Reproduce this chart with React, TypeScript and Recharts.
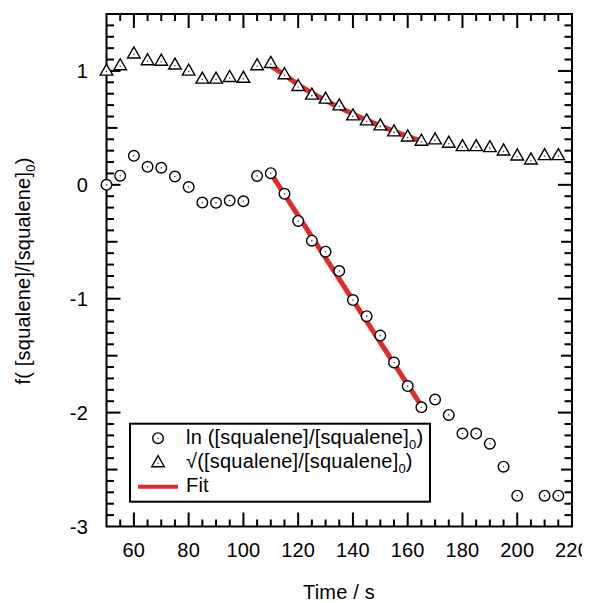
import React from 'react';
import { ComposedChart, Scatter, XAxis, YAxis, ReferenceArea } from 'recharts';

// ---- data ----
const time = [50, 55, 60, 65, 70, 75, 80, 85, 90, 95, 100, 105, 110, 115, 120, 125, 130, 135, 140, 145, 150, 155, 160, 165, 170, 175, 180, 185, 190, 195, 200, 205, 210, 215];
const lnRatio: (number | null)[] = [0.0, 0.08, 0.255, 0.158, 0.15, 0.073, -0.02, -0.156, -0.158, -0.138, -0.144, 0.078, 0.102, -0.079, -0.317, -0.49, -0.587, -0.757, -1.012, -1.153, -1.324, -1.56, -1.767, -1.953, -1.885, -2.02, -2.184, -2.184, -2.273, -2.475, -2.729, null, -2.729, -2.729];
const sqrtRatio = [1.003, 1.05, 1.153, 1.094, 1.09, 1.056, 1.003, 0.933, 0.933, 0.947, 0.94, 1.05, 1.07, 0.971, 0.868, 0.792, 0.757, 0.698, 0.61, 0.566, 0.522, 0.469, 0.425, 0.387, 0.399, 0.37, 0.34, 0.34, 0.331, 0.302, 0.258, 0.223, 0.261, 0.261];

const fitLnTime = [110, 165];
const fitLnValue = [0.1, -1.94];
const fitSqrtTime = [110, 115, 120, 125, 130, 135, 140, 145, 150, 155, 160, 165];
const fitSqrtValue = [1.045, 0.965, 0.88, 0.805, 0.74, 0.68, 0.622, 0.568, 0.518, 0.47, 0.425, 0.384];

const xTickLabels = [60, 80, 100, 120, 140, 160, 180, 200, 220];
const yTickLabels = [-3, -2, -1, 0, 1];
const yMidTicks = [-2.5, -1.5, -0.5, 0.5];
const X_DOMAIN = [50, 220];
const Y_DOMAIN = [-3, 1.5];

const legendLabels = ['ln ([squalene]/[squalene]', '\u221A([squalene]/[squalene]', 'Fit'];
const xTitle = 'Time / s';
const yTitle = 'f( [squalene]/[squalene]';

// ---- styling ----
const FONT = '"Liberation Sans", Arial, Helvetica, sans-serif';
const FS = 20;
const LS = 0.2;
const RED = '#e22a2b';
const W = 582;
const H = 595;
// plot size in px, used only to express tick lengths in axis units
const PXX = 465.5 / (X_DOMAIN[1] - X_DOMAIN[0]);
const PXY = 512.5 / (Y_DOMAIN[1] - Y_DOMAIN[0]);

const lnData = time
  .map((t, i) => ({ t, v: lnRatio[i] }))
  .filter((d) => d.v !== null) as { t: number; v: number }[];
const sqrtData = time.map((t, i) => ({ t, v: sqrtRatio[i] }));
const fitLnData = fitLnTime.map((t, i) => ({ t, v: fitLnValue[i] }));
const fitSqrtData = fitSqrtTime.map((t, i) => ({ t, v: fitSqrtValue[i] }));

// inner tick positions: every 5 s and every 0.1 unit
const xMajorIn = xTickLabels.filter((t) => t < X_DOMAIN[1]);
const xMinor: number[] = [];
for (let v = 55; v < 220; v += 5) if (!xTickLabels.includes(v)) xMinor.push(v);
const yMajorIn = yTickLabels.filter((v) => v > Y_DOMAIN[0]);
const yMinor: number[] = [];
for (let k = -29; k <= 14; k++) if (k % 5 !== 0) yMinor.push(k / 10);

// tick marks anchored at their mid point, just inside the frame
const vTicks = (list: number[], len: number) => [
  ...list.map((t) => ({ t, v: Y_DOMAIN[0] + len / 2 / PXY })),
  ...list.map((t) => ({ t, v: Y_DOMAIN[1] - len / 2 / PXY })),
];
const hTicks = (list: number[], len: number) => [
  ...list.map((v) => ({ t: X_DOMAIN[0] + len / 2 / PXX, v })),
  ...list.map((v) => ({ t: X_DOMAIN[1] - len / 2 / PXX, v })),
];
const V_MAJOR = vTicks(xMajorIn, 14);
const V_MINOR = vTicks(xMinor, 7);
const H_MAJOR = hTicks(yMajorIn, 14);
const H_MID = hTicks(yMidTicks, 11);
const H_MINOR = hTicks(yMinor, 7.5);

function VMajorShape(props: any) {
  return <rect x={props.cx - 1} y={props.cy - 7} width={2} height={14} fill="#000" />;
}
function VMinorShape(props: any) {
  return <rect x={props.cx - 1} y={props.cy - 3.5} width={2} height={7} fill="#000" />;
}
function HMajorShape(props: any) {
  return <rect x={props.cx - 7} y={props.cy - 1} width={14} height={2} fill="#000" />;
}
function HMidShape(props: any) {
  return <rect x={props.cx - 5.5} y={props.cy - 1} width={11} height={2} fill="#000" />;
}
function HMinorShape(props: any) {
  return <rect x={props.cx - 3.75} y={props.cy - 1} width={7.5} height={2} fill="#000" />;
}

function CircleMark(props: any) {
  const { cx, cy } = props;
  return (
    <g>
      <circle cx={cx} cy={cy} r={5.3} fill="#fff" stroke="#000" strokeWidth={1.4} />
      <circle cx={cx} cy={cy} r={0.8} fill="#444" />
    </g>
  );
}

function TriMark(props: any) {
  const { cx, cy } = props;
  const pts = `${cx},${cy - 6.5} ${cx + 6.3},${cy + 4.5} ${cx - 6.3},${cy + 4.5}`;
  return (
    <g>
      <polygon points={pts} fill="#fff" stroke="#000" strokeWidth={1.4} />
      <circle cx={cx} cy={cy + 1} r={0.8} fill="#444" />
    </g>
  );
}

const NoMark = () => <g />;

function Overlay() {
  return (
    <svg width={W} height={H} style={{ position: 'absolute', left: 0, top: 0, pointerEvents: 'none' }}>
      <text x={331} y={591} textAnchor="middle" fontSize={FS} fontFamily={FONT} letterSpacing={LS} fill="#000">
        {xTitle}
      </text>
      <text
        x={21.5}
        y={263}
        textAnchor="middle"
        fontSize={FS}
        fontFamily={FONT}
        letterSpacing={LS}
        fill="#000"
        transform="rotate(-90 21.5 263)"
      >
        {yTitle}
        <tspan dy={5} fontSize={13}>0</tspan>
        <tspan dy={-5}>)</tspan>
      </text>
      <g transform="translate(121 414.7)">
        <rect x={1} y={1} width={300} height={78} fill="#fff" stroke="#000" strokeWidth={2} />
        <CircleMark cx={29} cy={15.5} />
        <TriMark cx={29} cy={39.5} />
        <line x1={9} x2={49} y1={64} y2={64} stroke={RED} strokeWidth={4} />
        <text x={57} y={21} fontSize={FS} fontFamily={FONT} letterSpacing={LS} fill="#000">
          {legendLabels[0]}
          <tspan dy={5} fontSize={13}>0</tspan>
          <tspan dy={-5}>)</tspan>
        </text>
        <text x={57} y={45} fontSize={FS} fontFamily={FONT} letterSpacing={LS} fill="#000">
          {legendLabels[1]}
          <tspan dy={5} fontSize={13}>0</tspan>
          <tspan dy={-5}>)</tspan>
        </text>
        <text x={57} y={69.4} fontSize={FS} fontFamily={FONT} letterSpacing={LS} fill="#000">
          {legendLabels[2]}
        </text>
      </g>
    </svg>
  );
}

const tickFont = { fontSize: FS, fontFamily: FONT, fill: '#000', letterSpacing: LS };

export default function App() {
  return (
    <div style={{ position: 'relative', width: W, height: H, background: '#fff' }}>
      <ComposedChart width={W} height={H} margin={{ top: 6, right: 18, bottom: 0, left: 0 }}>
        <XAxis
          xAxisId={0}
          type="number"
          dataKey="t"
          domain={X_DOMAIN}
          ticks={xTickLabels}
          interval={0}
          tickSize={0}
          tickMargin={16}
          tickLine={false}
          axisLine={false}
          tick={tickFont}
          height={76.5}
        />
        <YAxis
          yAxisId={0}
          type="number"
          dataKey="v"
          domain={Y_DOMAIN}
          ticks={yTickLabels}
          interval={0}
          tickSize={0}
          tickMargin={18.5}
          tickLine={false}
          axisLine={false}
          tick={tickFont}
          width={98.5}
        />
        <ReferenceArea
          x1={X_DOMAIN[0]}
          x2={X_DOMAIN[1]}
          y1={Y_DOMAIN[0]}
          y2={Y_DOMAIN[1]}
          fill="none"
          fillOpacity={0}
          stroke="#000"
          strokeWidth={2}
          strokeOpacity={1}
        />
        <Scatter data={V_MAJOR} shape={<VMajorShape />} isAnimationActive={false} />
        <Scatter data={V_MINOR} shape={<VMinorShape />} isAnimationActive={false} />
        <Scatter data={H_MAJOR} shape={<HMajorShape />} isAnimationActive={false} />
        <Scatter data={H_MID} shape={<HMidShape />} isAnimationActive={false} />
        <Scatter data={H_MINOR} shape={<HMinorShape />} isAnimationActive={false} />
        <Scatter data={fitLnData} shape={<NoMark />} line={{ stroke: RED, strokeWidth: 5 }} isAnimationActive={false} />
        <Scatter data={fitSqrtData} shape={<NoMark />} line={{ stroke: RED, strokeWidth: 5 }} isAnimationActive={false} />
        <Scatter data={lnData} shape={<CircleMark />} isAnimationActive={false} />
        <Scatter data={sqrtData} shape={<TriMark />} isAnimationActive={false} />
      </ComposedChart>
      <Overlay />
    </div>
  );
}
